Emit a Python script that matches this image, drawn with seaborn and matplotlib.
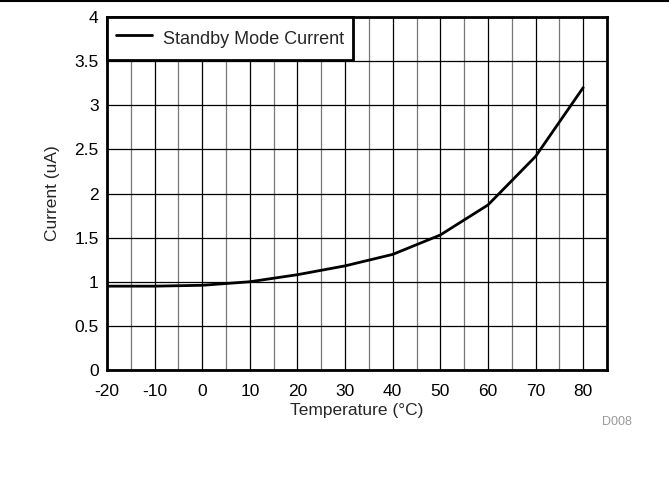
import matplotlib
matplotlib.use("Agg")
import matplotlib.pyplot as plt
import seaborn as sns
import pandas as pd
import numpy as np

temperature = [-20, -10, 0, 10, 20, 30, 40, 50, 60, 70, 80]
current = [0.95, 0.95, 0.96, 1.00, 1.08, 1.18, 1.31, 1.53, 1.87, 2.42, 3.20]
series_name = "Standby Mode Current"
x_ticks = [-20, -10, 0, 10, 20, 30, 40, 50, 60, 70, 80]
x_tick_labels = ["-20", "-10", "0", "10", "20", "30", "40", "50", "60", "70", "80"]
y_ticks = [0, 0.5, 1, 1.5, 2, 2.5, 3, 3.5, 4]
y_tick_labels = ["0", "0.5", "1", "1.5", "2", "2.5", "3", "3.5", "4"]

sns.set_style("white")
plt.rcParams['font.family'] = ['Liberation Sans', 'DejaVu Sans']

df = pd.DataFrame({"Temperature": temperature, "Current": current, "Series": series_name})

fig = plt.figure(figsize=(6.69, 4.87), dpi=100)
ax = fig.add_axes([107/669, 1-370/487, 500/669, 353/487])

sns.lineplot(data=df, x="Temperature", y="Current", hue="Series", palette=["black"],
             linewidth=2, ax=ax)

ax.set_xlim(-20, 85)
ax.set_ylim(0, 4)
ax.set_xticks(x_ticks)
ax.set_xticklabels(x_tick_labels)
ax.set_yticks(y_ticks)
ax.set_yticklabels(y_tick_labels)
ax.set_xticks(np.arange(-15, 85, 10), minor=True)
ax.grid(True, which="major", color="black", linewidth=0.9)
ax.grid(True, which="minor", axis="x", color="#777777", linewidth=0.9)
ax.set_axisbelow(True)
ax.tick_params(axis="both", which="both", length=0, labelsize=12.5, colors="black")
ax.tick_params(axis="x", pad=10)
ax.tick_params(axis="y", pad=6)
for s in ax.spines.values():
    s.set_linewidth(2)
    s.set_color("black")
ax.set_xlabel("Temperature (°C)", fontsize=12.5, labelpad=3)
ax.set_ylabel("Current (uA)", fontsize=12.5, labelpad=10)

leg = ax.legend(loc="upper left", borderaxespad=0, fancybox=False, framealpha=1,
                edgecolor="black", fontsize=13, handlelength=2.0, borderpad=0.5,
                handletextpad=0.6, handleheight=1.75)
leg.get_frame().set_linewidth(2)
leg.set_title(None)

fig.text(617/669, 1-422/487, "D008", color="#999999", fontsize=9, ha="center", va="center")
fig.add_artist(plt.Line2D([0, 1], [1-1/487, 1-1/487], color="black", linewidth=1.5,
                          transform=fig.transFigure))

fig.savefig("out.png", dpi=100, facecolor="white")
